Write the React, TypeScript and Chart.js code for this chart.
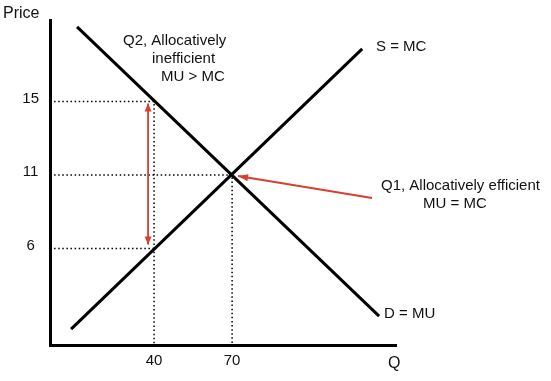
import React, { useEffect, useRef } from "react";
import { Chart, registerables } from "chart.js";

Chart.register(...registerables);

// ---- data ----
// price levels are drawn at evenly spaced positions (diagram not to scale)
const priceLevels = [1, 2, 3];
const priceLabels = ["6", "11", "15"];
const quantityTicks = [40, 70];
const demandCurve = [
  { x: 10.4, y: 4.014 },
  { x: 126.5, y: 0.081 },
];
const supplyCurve = [
  { x: 8.1, y: -0.095 },
  { x: 120, y: 3.716 },
];
const yMin = -0.311;
const yMax = 4.108;
const xMin = 0;
const xMax = 133;
const guide15 = [
  { x: 0, y: 3 },
  { x: 40, y: 3 },
  { x: 40, y: yMin },
];
const guide11 = [
  { x: 0, y: 2 },
  { x: 70, y: 2 },
  { x: 70, y: yMin },
];
const guide6 = [
  { x: 0, y: 1 },
  { x: 40, y: 1 },
];
const arrowQ2 = [
  { x: 37.7, y: 2.973 },
  { x: 37.7, y: 1.054 },
];
const arrowQ1 = [
  { x: 123.8, y: 1.689 },
  { x: 72.3, y: 1.986 },
];

const RED = "#d6402e";
const INK = "#111111";
const FONT = "'Liberation Sans', Arial, Helvetica, sans-serif";

const texts = [
  { t: "Price", x: 3, y: 17.5, s: 16 },
  { t: "Q2, Allocatively", x: 123, y: 44.5, s: 15 },
  { t: "inefficient", x: 152, y: 62.5, s: 15 },
  { t: "MU > MC", x: 161, y: 80.5, s: 15 },
  { t: "S = MC", x: 376, y: 50.5, s: 15 },
  { t: "Q1, Allocatively efficient", x: 381, y: 189.5, s: 15 },
  { t: "MU = MC", x: 423, y: 207.5, s: 15 },
  { t: "D = MU", x: 384, y: 317.5, s: 15 },
  { t: "Q", x: 388, y: 367.5, s: 16 },
];

const econPlugin = {
  id: "econAnnotations",
  afterDatasetsDraw(chart: any) {
    const ctx = chart.ctx as CanvasRenderingContext2D;
    const xs = chart.scales.x;
    const ys = chart.scales.y;
    const px = (p: { x: number; y: number }) => ({
      x: xs.getPixelForValue(p.x),
      y: ys.getPixelForValue(p.y),
    });
    const head = (tip: any, from: any, len: number, half: number) => {
      const a = Math.atan2(tip.y - from.y, tip.x - from.x);
      const bx = tip.x - len * Math.cos(a);
      const by = tip.y - len * Math.sin(a);
      ctx.beginPath();
      ctx.moveTo(tip.x, tip.y);
      ctx.lineTo(bx + half * Math.sin(a), by - half * Math.cos(a));
      ctx.lineTo(bx - half * Math.sin(a), by + half * Math.cos(a));
      ctx.closePath();
      ctx.fill();
    };
    ctx.save();
    ctx.fillStyle = RED;
    const a0 = px(arrowQ2[0]);
    const a1 = px(arrowQ2[1]);
    head(a0, a1, 8, 3.5);
    head(a1, a0, 8, 3.5);
    const b0 = px(arrowQ1[0]);
    const b1 = px(arrowQ1[1]);
    head(b1, b0, 10, 3.5);
    ctx.restore();
  },
  afterDraw(chart: any) {
    const ctx = chart.ctx as CanvasRenderingContext2D;
    ctx.save();
    ctx.fillStyle = INK;
    ctx.textAlign = "left";
    ctx.textBaseline = "alphabetic";
    for (const s of texts) {
      ctx.font = `${s.s}px ${FONT}`;
      ctx.fillText(s.t, s.x, s.y);
    }
    ctx.restore();
  },
};

function lineDs(data: any[], color: string, width: number, dash: number[] = [], order = 0) {
  return {
    data,
    borderColor: color,
    backgroundColor: color,
    borderWidth: width,
    borderDash: dash,
    pointRadius: 0,
    pointHoverRadius: 0,
    tension: 0,
    fill: false,
    showLine: true,
    order,
  };
}

export default function App() {
  const ref = useRef<HTMLCanvasElement | null>(null);

  useEffect(() => {
    document.body.style.margin = "0";
    const canvas = ref.current;
    if (!canvas) return;
    const dotted = [1.5, 2.6];
    const chart = new Chart(canvas, {
      type: "line",
      data: {
        datasets: [
          lineDs(demandCurve, "#000", 3, [], 1),
          lineDs(supplyCurve, "#000", 3, [], 1),
          lineDs(arrowQ2, RED, 1.8, [], 0),
          lineDs(arrowQ1, RED, 2, [], 0),
          lineDs(guide15, "#000", 1.5, dotted, 2),
          lineDs(guide11, "#000", 1.5, dotted, 2),
          lineDs(guide6, "#000", 1.5, dotted, 2),
        ] as any,
      },
      options: {
        animation: false,
        responsive: false,
        maintainAspectRatio: false,
        events: [],
        layout: { padding: { left: 0, right: 155, top: 18, bottom: 0 } },
        plugins: { legend: { display: false }, tooltip: { enabled: false } },
        scales: {
          x: {
            type: "linear",
            min: xMin,
            max: xMax,
            grid: { display: false, drawTicks: false },
            border: { display: true, color: "#000", width: 3 },
            afterBuildTicks: (s: any) => {
              s.ticks = quantityTicks.map((v) => ({ value: v }));
            },
            afterFit: (s: any) => {
              s.height = 36;
            },
            ticks: {
              autoSkip: false,
              maxRotation: 0,
              padding: 7,
              color: INK,
              font: { family: FONT, size: 15 },
              callback: (v: any) => String(v),
            },
          },
          y: {
            type: "linear",
            min: yMin,
            max: yMax,
            grid: { display: false, drawTicks: false },
            border: { display: true, color: "#000", width: 3 },
            afterBuildTicks: (s: any) => {
              s.ticks = priceLevels.map((v) => ({ value: v }));
            },
            afterFit: (s: any) => {
              s.width = 50;
            },
            ticks: {
              autoSkip: false,
              padding: 11,
              labelOffset: -3,
              crossAlign: "center",
              color: INK,
              font: { family: FONT, size: 15 },
              callback: (v: any) => {
                const i = priceLevels.indexOf(Number(v));
                return i >= 0 ? priceLabels[i] : "";
              },
            },
          },
        },
      },
      plugins: [econPlugin],
    } as any);
    return () => chart.destroy();
  }, []);

  return (
    <div style={{ width: 551, height: 381, background: "#fff" }}>
      <canvas ref={ref} width={551} height={381} style={{ display: "block" }} />
    </div>
  );
}
